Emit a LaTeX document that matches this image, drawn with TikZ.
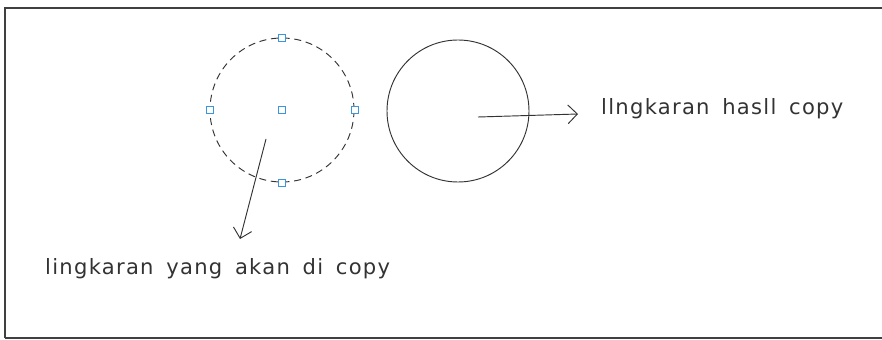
\documentclass[tikz,border=0pt]{standalone}
\usepackage{fontspec}
\setmainfont{DejaVu Sans}
\newfontfamily\cadfont[LetterSpace=6, WordSpace=1.6]{DejaVu Sans}
\usetikzlibrary{arrows.meta}
\definecolor{gripblue}{RGB}{60,150,220}
\tikzset{
    garis/.style={line width=0.8pt, black!80},
    panah/.style={garis, -{Straight Barb[length=8pt,width=16pt,line width=0.8pt]}},
    grip/.style={draw=gripblue, line width=0.6pt, minimum size=6pt, inner sep=0pt, fill=white},
    label/.style={font=\cadfont\fontsize{18}{20}\selectfont, text=black!80, inner sep=0pt},
}
\begin{document}
\begin{tikzpicture}[x=0.03cm, y=-0.03cm]
    \useasboundingbox (0,0) rectangle (882,340);
    % Bingkai
    \draw[line width=1.6pt, black!75] (5,338) -- (5,8) -- (882,8);
    \draw[line width=1.6pt, black!75] (5,338) -- (882,338);
    % Lingkaran
    \node[garis, draw, circle, dashed, dash pattern=on 6pt off 4pt, minimum size=144*0.03cm, inner sep=0pt] (asli) at (282,110) {};
    \node[garis, draw, circle, minimum size=142*0.03cm, inner sep=0pt] (salinan) at (458,111) {};
    % Grip
    \node[grip] (pusat) at (asli.center) {};
    \node[grip] (atas) at (asli.north) {};
    \node[grip] (bawah) at (asli.south) {};
    \node[grip] (kiri) at (asli.west) {};
    \node[grip] (kanan) at (asli.east) {};
    % Tulisan
    \node[label, anchor=base west] (hasil) at (601,115) {llngkaran hasll copy};
    \node[label, anchor=base west] (akan) at (45,274) {lingkaran yang akan di copy};
    % Panah
    \coordinate (ekor1) at (478,117);
    \coordinate (ujung1) at (578,114);
    \coordinate (ekor2) at (266,139);
    \coordinate (ujung2) at (240,239);
    \draw[panah] (ekor1) -- (ujung1);
    \draw[panah] (ekor2) -- (ujung2);
\end{tikzpicture}
\end{document}
